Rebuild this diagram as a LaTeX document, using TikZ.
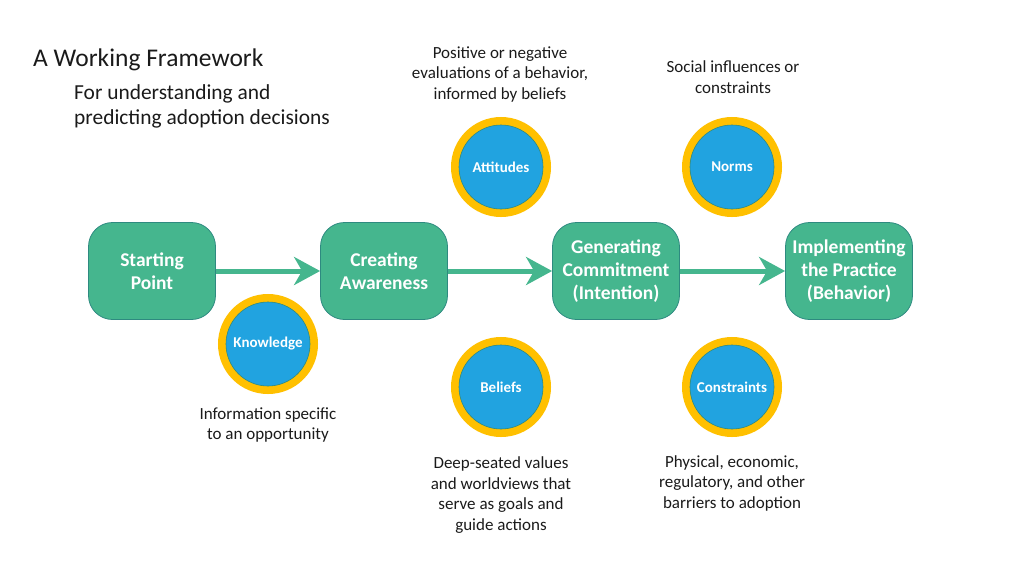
\documentclass[tikz,border=0pt]{standalone}
\usepackage{fontspec}
\setmainfont{Carlito}
\usetikzlibrary{arrows.meta}

\definecolor{stagegreen}{HTML}{45B68E}
\definecolor{stageedge}{HTML}{2E8A80}
\definecolor{factorblue}{HTML}{21A3E0}
\definecolor{factorgold}{HTML}{FFC000}
\definecolor{notetext}{HTML}{1A1A1A}

\tikzset{
  stage/.style={rectangle, rounded corners=24pt,
    fill=stagegreen, draw=stageedge, line width=0.8pt,
    minimum width=127pt, minimum height=97pt, inner sep=0pt,
    text=white, align=center, font=\fontsize{19.5}{23}\selectfont\bfseries},
  factor/.style={circle, preaction={draw=factorgold, line width=16pt},
    fill=factorblue, draw=stageedge, line width=0.6pt,
    minimum size=84pt, inner sep=0pt,
    text=white, font=\fontsize{15}{17}\selectfont\bfseries},
  note/.style={align=center, inner sep=0pt, text=notetext,
    font=\fontsize{17}{20.5}\selectfont},
  flow/.style={draw=stagegreen, line width=5pt,
    -{Stealth[length=26pt,width=28pt,inset=8pt]}}
}

\begin{document}
\begin{tikzpicture}[x=1pt,y=-1pt]
  \useasboundingbox (0,0) rectangle (1024,576);

  % Drawing title
  \node (title) [anchor=base west, inner sep=0pt, text=notetext,
    font=\fontsize{25.5}{30}\selectfont] at (33,66) {A Working Framework};
  \node (subtitle) [anchor=north west, inner sep=0pt, align=left, text=notetext,
    font=\fontsize{21.4}{25}\selectfont] at (74,84)
    {For understanding and\\predicting adoption decisions};

  % Drawing stages
  \node (start) [stage] at (152,271) {Starting\\Point};
  \node (aware) [stage] at (384,271) {Creating\\Awareness};
  \node (commit) [stage] at (616,271) {Generating\\Commitment\\(Intention)};
  \node (practice) [stage] at (849,271) {Implementing\\the Practice\\(Behavior)};

  % Drawing arrows between stages
  \draw [flow] (start) -- (aware);
  \draw [flow] (aware) -- (commit);
  \draw [flow] (commit) -- (practice);

  % Drawing factors
  \node (knowledge) [factor] at (268,344) {Knowledge};
  \node (attitudes) [factor] at (501,167) {Attitudes};
  \node (norms) [factor] at (732,167) {Norms};
  \node (beliefs) [factor] at (501,387) {Beliefs};
  \node (constraints) [factor] at (732,387) {Constraints};

  % Marking notes
  \node (attnote) [note] at (500,74) {Positive or negative\\evaluations of a behavior,\\informed by beliefs};
  \node (normnote) [note] at (733,77) {Social influences or\\constraints};
  \node (knownote) [note] at (268,425) {Information specific\\to an opportunity};
  \node (belnote) [note] at (501,495) {Deep-seated values\\and worldviews that\\serve as goals and\\guide actions};
  \node (connote) [note] at (732,483) {Physical, economic,\\regulatory, and other\\barriers to adoption};
\end{tikzpicture}
\end{document}
